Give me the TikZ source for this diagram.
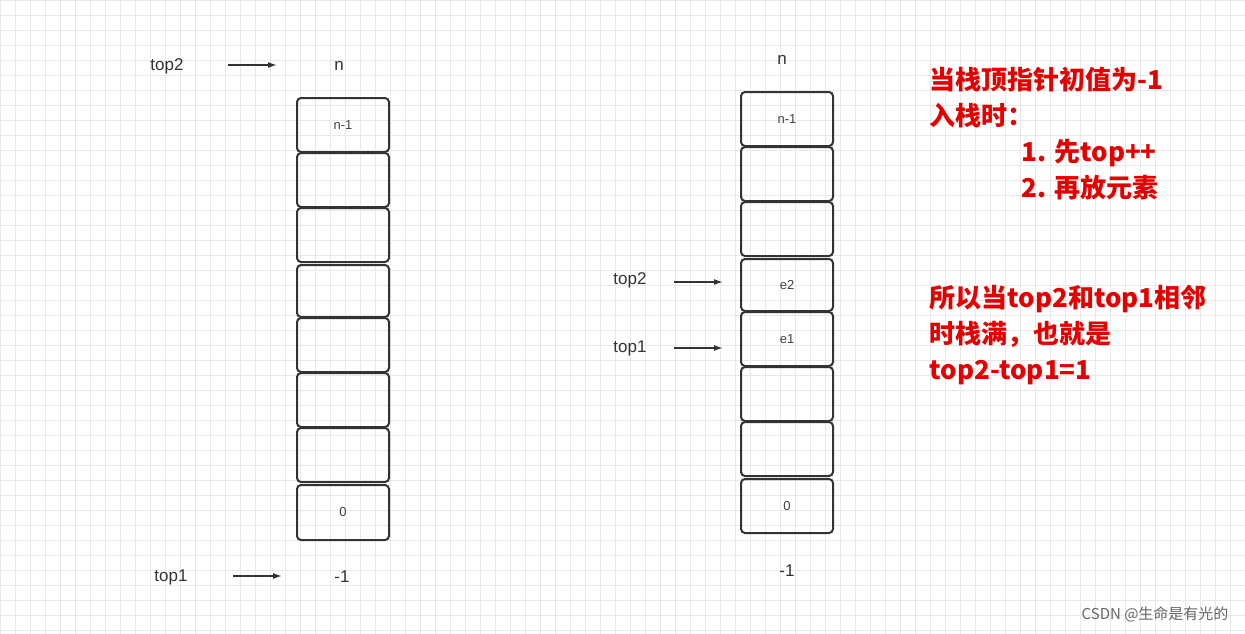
\documentclass[tikz,border=0pt]{standalone}
\usepackage{fontspec}
\usetikzlibrary{arrows.meta}
\setmainfont{Liberation Sans}
\newfontfamily\cjk{Noto Sans CJK SC}
\begin{document}
\begin{tikzpicture}[x=1pt,y=-1pt,
  cell/.style={draw=black!80,line width=2pt,rounded corners=4pt,minimum width=92pt,inner sep=0pt,font=\fontsize{13}{14}\selectfont,text=black!75},
  lbl/.style={font=\fontsize{17}{18}\selectfont,text=black!80},
  arr/.style={-{Latex[length=9pt,width=6pt]},line width=1.5pt,black!80},
  red/.style={text=red!90!black,font=\cjk\bfseries\fontsize{26}{36}\selectfont,align=left,anchor=north west}]
\useasboundingbox (0,0) rectangle (1245,634);
\fill[white] (0,0) rectangle (1245,634);
\foreach \x in {0,15,...,1245} \draw[black!9,line width=0.8pt] (\x,0) -- (\x,634);
\foreach \y in {0,15,...,634} \draw[black!9,line width=0.8pt] (0,\y) -- (1245,\y);
\foreach \i/\a/\b/\t in {1/98/152/n-1,2/153/207/,3/208/262/,4/265/317/,5/318/372/,6/373/427/,7/428/482/,8/485/540/0}
  \node[cell,minimum height={\b-\a}] (L\i) at (343,{(\a+\b)/2}) {\t};
\foreach \i/\a/\b/\t in {1/92/146/n-1,2/147/201/,3/202/256/,4/259/311/e2,5/312/366/e1,6/367/421/,7/422/476/,8/479/533/0}
  \node[cell,minimum height={\b-\a}] (R\i) at (787,{(\a+\b)/2}) {\t};
\node[lbl] (ln) at (339,66) {n};
\node[lbl] (lm) at (342,577) {-1};
\node[lbl] (lt2) at (167,66) {top2};
\node[lbl] (lt1) at (171,577) {top1};
\coordinate (a1) at (228,65); \coordinate (a2) at (277,65);
\draw[arr] (a1) -- (a2);
\coordinate (b1) at (233,576); \coordinate (b2) at (282,576);
\draw[arr] (b1) -- (b2);
\node[lbl] (rn) at (782,60) {n};
\node[lbl] (rm) at (787,571) {-1};
\node[lbl] (rt2) at (630,280) {top2};
\node[lbl] (rt1) at (630,348) {top1};
\coordinate (c1) at (674,282); \coordinate (c2) at (723,282); \draw[arr] (c1) -- (c2);
\coordinate (d1) at (674,348); \coordinate (d2) at (723,348); \draw[arr] (d1) -- (d2);
\node[red] (t1) at (926,64) {当栈顶指针初值为-1\\入栈时：\\\hspace*{92pt}1. 先top++\\\hspace*{92pt}2. 再放元素};
\node[red] (t2) at (926,282) {所以当top2和top1相邻\\时栈满，也就是\\top2-top1=1};
\node[font=\cjk\fontsize{15}{16}\selectfont,text=black!60,anchor=east] (wm) at (1232,614) {CSDN @生命是有光的};
\end{tikzpicture}
\end{document}
